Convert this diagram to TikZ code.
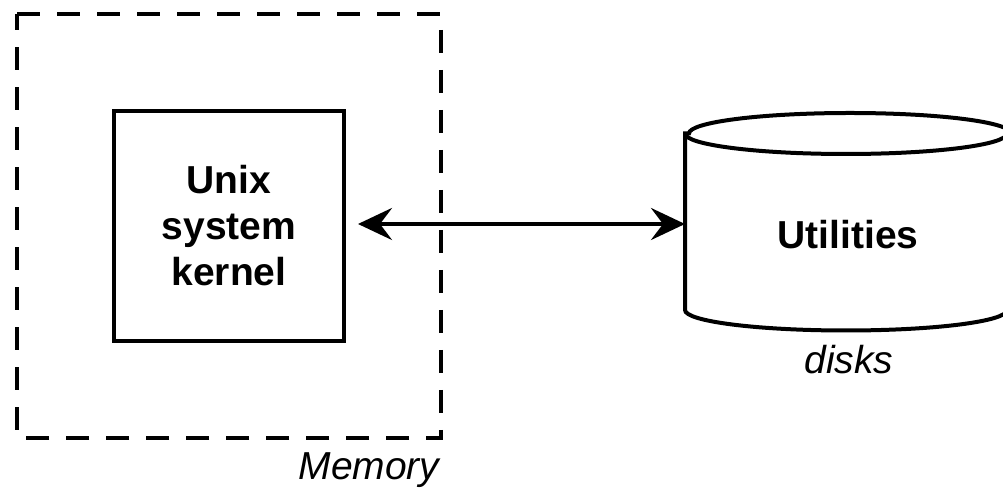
\documentclass[tikz,border=0pt]{standalone}
\usepackage{fontspec}
\setmainfont{Liberation Sans}
\usetikzlibrary{arrows.meta}
\begin{document}
\begin{tikzpicture}[x=0.5pt,y=0.5pt,
  line width=2pt,
  memframe/.style={draw,dash pattern=on 11.5pt off 8.5pt},
  kbox/.style={draw,minimum width=115pt,minimum height=115pt,inner sep=0pt,
    align=center,font=\fontsize{19.5pt}{23pt}\selectfont\bfseries},
  lbl/.style={font=\fontsize{19.5pt}{23pt}\selectfont\itshape,inner sep=0pt},
  conn/.style={{Stealth[length=17pt,width=16pt,inset=6pt]}-{Stealth[length=17pt,width=16pt,inset=6pt]}}
]
\clip (0,0) rectangle (1003,492);
% memory frame
\draw[memframe] (17,478) -- (441,478) -- (441,54) -- (17,54) -- cycle;
\node[lbl] (mem) at (369,22) {Memory};
% kernel box
\node[kbox] (kernel) at (229,266) {Unix\\system\\kernel};
% cylinder body (invisible node)
\node[minimum width=161pt,minimum height=86.25pt,inner sep=0pt] (cyl) at (848,270.25) {};
\draw[fill=white] (cyl.north west) -- (cyl.south west)
  arc (180:360:161 and 20.5) -- (cyl.north east)
  arc (0:180:161 and 20.5) -- cycle;
\draw (cyl.north west) arc (180:360:161 and 20.5);
\node[font=\fontsize{19.5pt}{23pt}\selectfont\bfseries,inner sep=0pt] (util) at (848,257) {Utilities};
\node[lbl] (disks) at (849,132) {disks};
% connector
\coordinate (a) at ([xshift=6pt,yshift=1pt]kernel.east);
\coordinate (b) at (cyl.west |- a);
\draw[conn] (a) -- (b);
\end{tikzpicture}
\end{document}
